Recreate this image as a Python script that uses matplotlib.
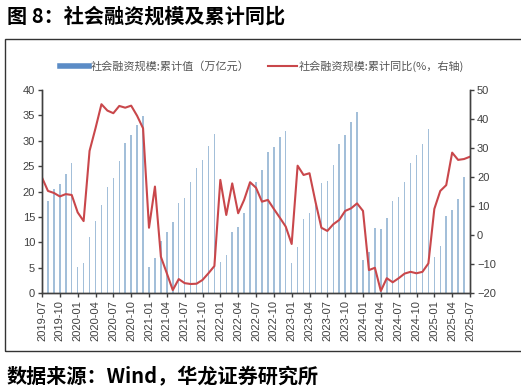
import numpy as np
import pandas as pd
import matplotlib
matplotlib.use('Agg')
import matplotlib.pyplot as plt
from matplotlib.lines import Line2D
from matplotlib.patches import Rectangle

plt.rcParams['font.family'] = ['Noto Sans CJK SC', 'DejaVu Sans']

# 月份：2019-07 至 2025-07
meses = pd.date_range('2019-07-01', '2025-07-01', freq='MS').strftime('%Y-%m').tolist()

# 社会融资规模：累计值（万亿元）
acumulado = [np.nan, 18.1, 20.5, 21.5, 23.4, 25.6,
             5.1, 5.9, 11.1, 14.2, 17.3, 20.8, 22.6, 26.1, 29.6, 31.1, 33.2, 34.9,
             5.2, 6.9, 10.2, 12.1, 14.0, 17.7, 18.8, 21.8, 24.7, 26.3, 28.9, 31.4,
             6.2, 7.4, 12.1, 13.0, 15.8, 21.7, 21.8, 24.2, 27.8, 28.7, 30.7, 32.0,
             6.0, 9.0, 14.5, 15.8, 17.3, 21.6, 22.1, 25.2, 29.3, 31.2, 33.6, 35.6,
             6.5, 8.1, 12.9, 12.7, 14.8, 18.1, 18.9, 21.9, 25.7, 27.1, 29.4, 32.3,
             7.1, 9.3, 15.2, 16.3, 18.6, 22.8, np.nan]

# 社会融资规模：累计同比（%）
yoy = [19.8, 15.2, 14.5, 13.3, 14.1, 13.8,
       7.8, 4.8, 29.0, 36.8, 45.1, 42.9, 42.0, 44.5, 43.9, 44.6, 41.1, 36.8,
       2.5, 16.7, -7.5, -13.2, -19.0, -15.2, -16.6, -16.9, -16.8, -15.5, -13.2, -10.7,
       19.0, 6.9, 17.8, 7.5, 12.1, 18.2, 16.3, 11.5, 12.1, 9.0, 6.0, 2.9,
       -3.1, 23.9, 20.7, 21.3, 11.5, 2.5, 1.4, 3.7, 5.2, 8.3, 9.2, 10.9,
       8.3, -12.1, -11.3, -19.3, -14.9, -16.3, -14.9, -13.3, -12.7, -13.2, -12.7, -9.8,
       9.0, 15.2, 17.2, 28.4, 25.9, 26.2, 27.0]

nome_barra = '社会融资规模:累计值（万亿元）'
nome_linha = '社会融资规模:累计同比(%，右轴)'
titulo = '图 8：社会融资规模及累计同比'
fonte = '数据来源：Wind，华龙证券研究所'

cor_barra = '#a3bfd9'
cor_linha = '#c9474b'
cor_eixo = '#404040'
fonte_num = 'Liberation Sans'

x = np.arange(len(meses))

fig = plt.figure(figsize=(5.21, 3.92), dpi=100)
ax1 = fig.add_axes([42/521, 1-293/392, (470-42)/521, (293-90)/392])
ax2 = ax1.twinx()

ax1.bar(x, acumulado, width=0.25, color=cor_barra, linewidth=0)
ax2.plot(x, yoy, color=cor_linha, linewidth=1.5)

ax1.set_xlim(0, len(meses)-1)
ax1.set_ylim(0, 40)
ax2.set_ylim(-20, 50)
ax1.set_yticks(range(0, 41, 5))
ax2.set_yticks(range(-20, 51, 10))
ax1.set_xticks(x[::3])
ax1.set_xticklabels(meses[::3], rotation=90, fontsize=7.5, family=fonte_num, color=cor_eixo)

for ax in (ax1, ax2):
    ax.spines['top'].set_visible(False)
    for s in ('left', 'right', 'bottom'):
        ax.spines[s].set_color(cor_eixo)
        ax.spines[s].set_linewidth(1.0)
    ax.tick_params(axis='both', colors=cor_eixo, length=3, width=1.0, labelsize=8)
    for lb in ax.get_yticklabels():
        lb.set_family(fonte_num)
ax1.tick_params(axis='y', pad=2)
ax2.tick_params(axis='y', pad=2)
ax1.tick_params(axis='x', pad=2)

# 图例放在图上方
alcas = [Line2D([], [], color='#5b8cc6', linewidth=4),
         Line2D([], [], color=cor_linha, linewidth=1.5)]
fig.legend(alcas, [nome_barra, nome_linha], loc='center', bbox_to_anchor=(262/521, 1-66/392),
           ncol=2, frameon=False, fontsize=8, handlelength=2.6, handletextpad=0.2,
           columnspacing=1.6, labelcolor='#555555')

# 外框
fig.patches.append(Rectangle((5/521, 1-351/392), 1.0, (351-39)/392, transform=fig.transFigure,
                             fill=False, edgecolor='#333333', linewidth=1.0))

fig.text(7/521, 1-16/392, titulo, fontsize=14.5, fontweight='bold', va='center', ha='left')
fig.text(7/521, 1-376/392, fonte, fontsize=14.5, fontweight='bold', va='center', ha='left')

plt.savefig('out.png', dpi=100)
